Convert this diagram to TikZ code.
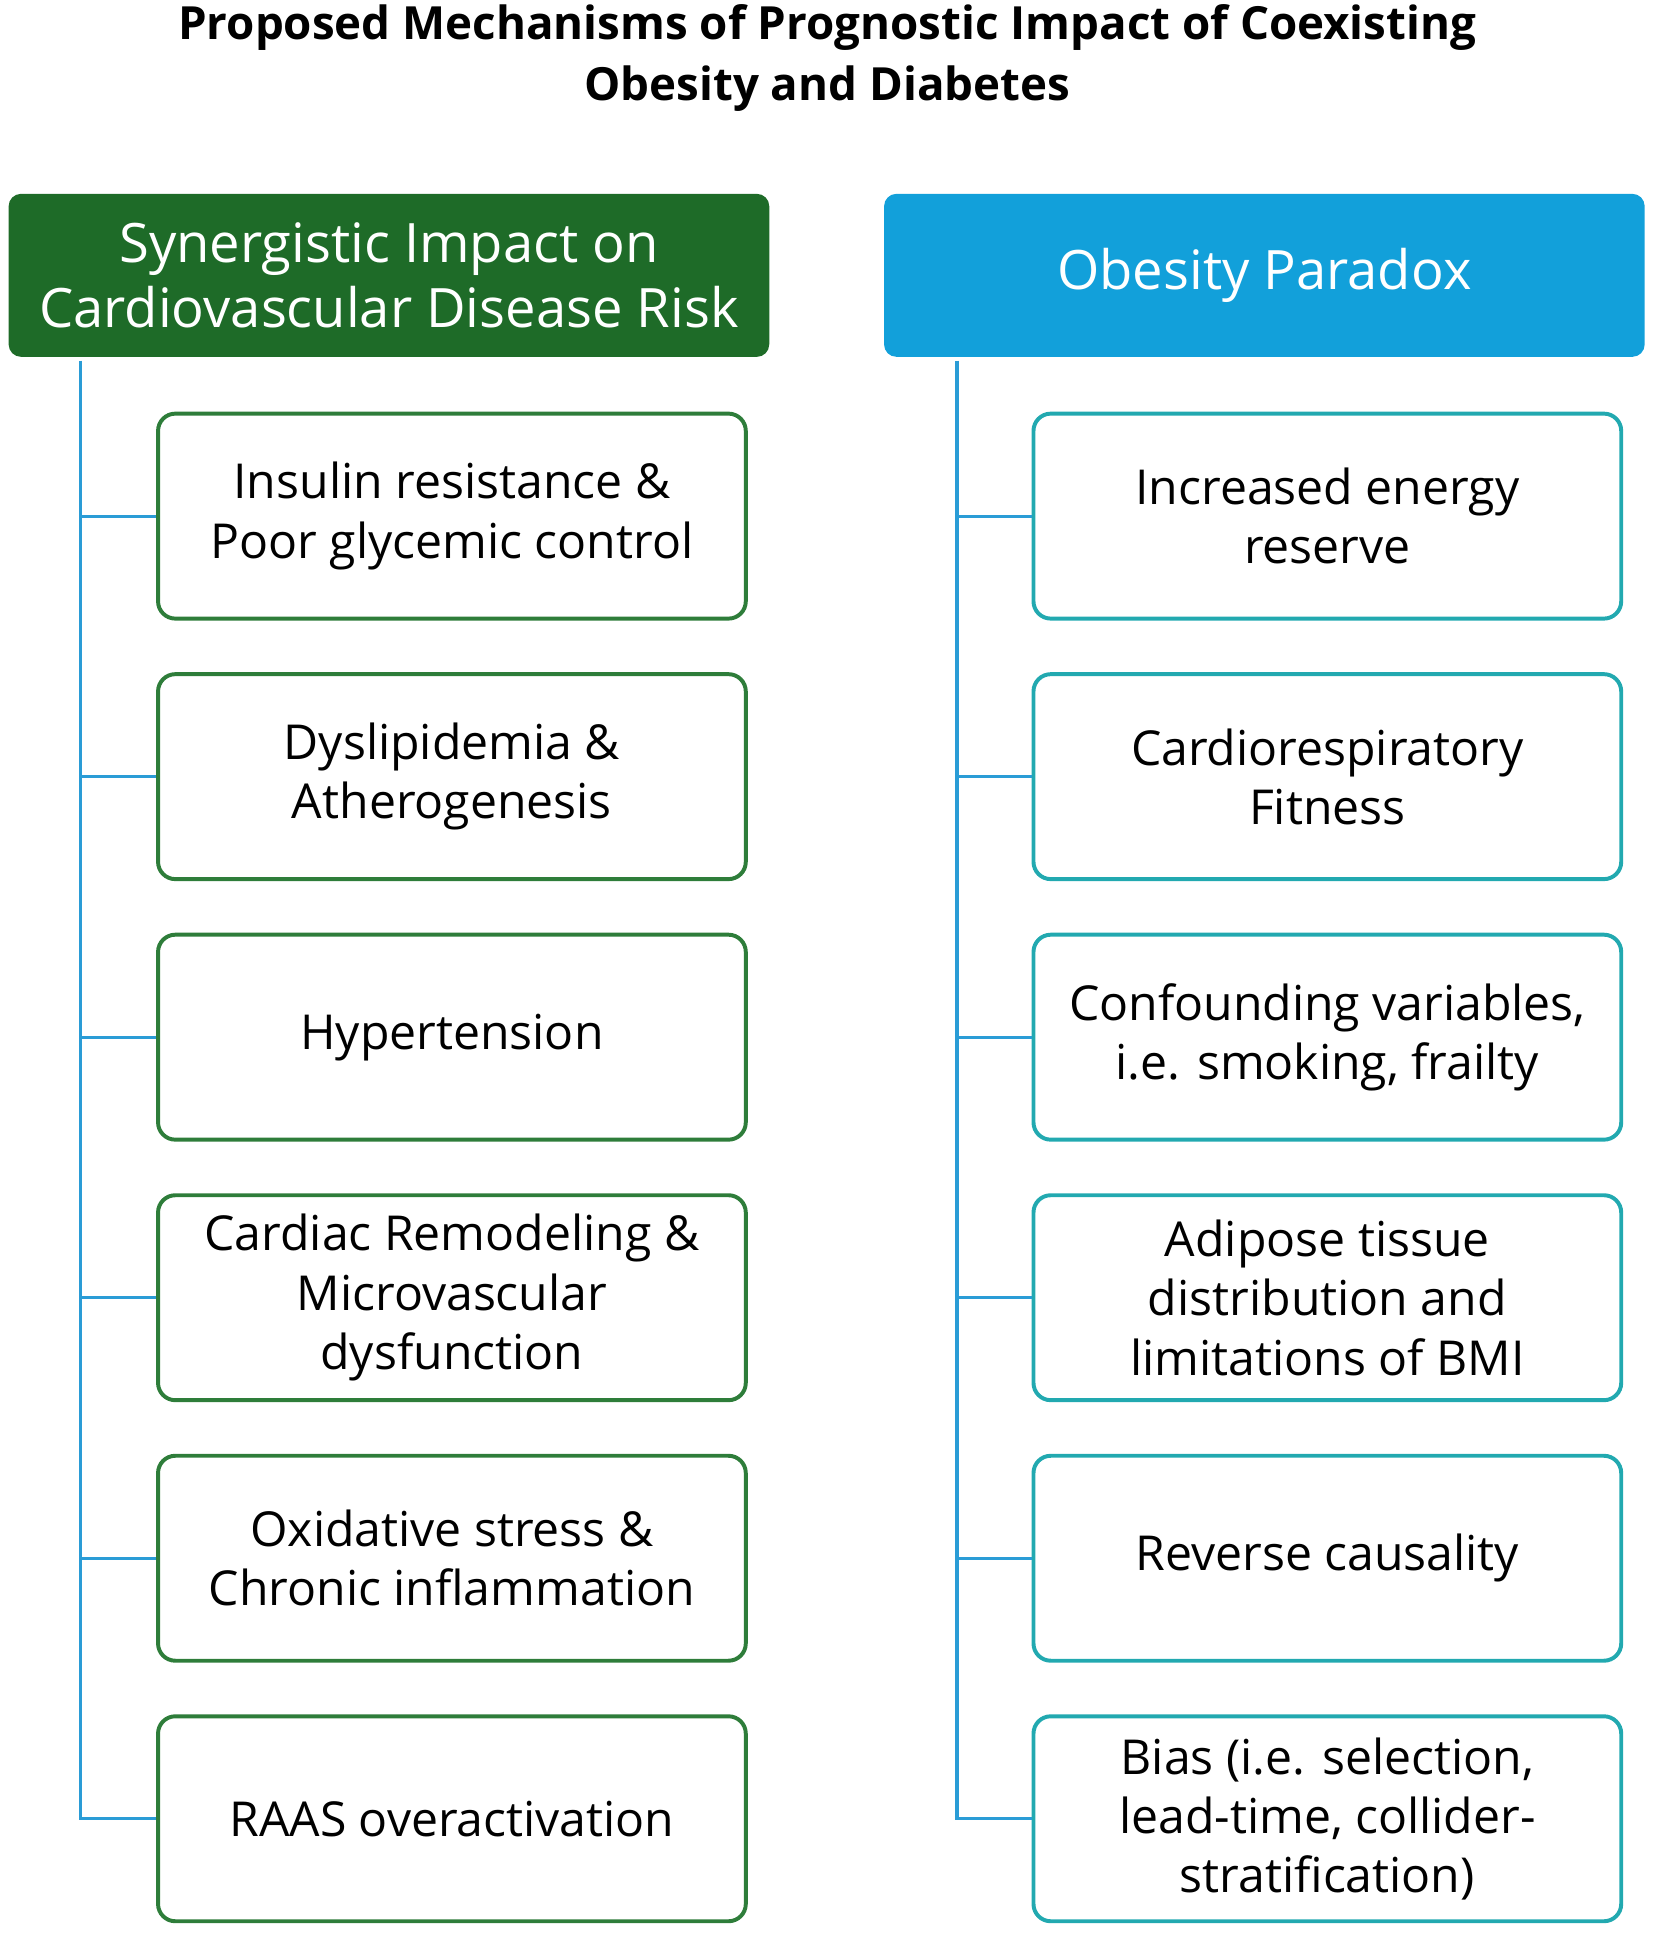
\documentclass[tikz,border=0pt]{standalone}
\usepackage{fontspec}
\setmainfont{Open Sans}
\definecolor{hgreen}{HTML}{1E6B28}
\definecolor{hblue}{HTML}{12A0DA}
\definecolor{bgreen}{HTML}{2E7D3A}
\definecolor{bteal}{HTML}{22A9B0}
\definecolor{lblue}{HTML}{2A9CD6}
\begin{document}
\begin{tikzpicture}[x=0.5pt,y=-0.5pt,
 hdr/.style={rounded corners=5pt,minimum width=308pt,minimum height=66pt,text=white,font=\fontsize{22}{26}\selectfont,align=center,inner sep=0pt},
 lbox/.style={draw=bgreen,line width=1.6pt,rounded corners=7pt,minimum width=238pt,minimum height=83pt,align=center,font=\fontsize{19.5}{24}\selectfont,inner sep=0pt},
 rbox/.style={lbox,draw=bteal},
 conn/.style={draw=lblue,line width=1.3pt}]
\useasboundingbox (0,0) rectangle (1340,1572);
\node[font=\bfseries\fontsize{18.5}{25}\selectfont,align=center] (title) at (670,47) {Proposed Mechanisms of Prognostic Impact of Coexisting\\Obesity and Diabetes};
\node[hdr,fill=hgreen] (lh) at (315,223) {Synergistic Impact on\\Cardiovascular Disease Risk};
\node[hdr,fill=hblue] (rh) at (1024,223) {Obesity Paradox};
\foreach \i/\t in {1/{Insulin resistance \&\\Poor glycemic control},2/{Dyslipidemia \&\\Atherogenesis},3/{Hypertension},4/{Cardiac Remodeling \&\\Microvascular\\dysfunction},5/{Oxidative stress \&\\Chronic inflammation},6/{RAAS overactivation}}
 \node[lbox] (l\i) at (366,{418+211*(\i-1)}) {\t};
\foreach \i/\t in {1/{Increased energy\\reserve},2/{Cardiorespiratory\\Fitness},3/{Confounding variables,\\i.e. smoking, frailty},4/{Adipose tissue\\distribution and\\limitations of BMI},5/{Reverse causality},6/{Bias (i.e. selection,\\lead-time, collider-\\stratification)}}
 \node[rbox] (r\i) at (1075,{418+211*(\i-1)}) {\t};
\coordinate (lt) at (65,292); \coordinate (rt) at (775,292);
\draw[conn] (lt) |- (l6.west);
\draw[conn] (rt) |- (r6.west);
\foreach \i in {1,...,5}{
 \draw[conn] (l\i.west) -- (l\i.west -| lt);
 \draw[conn] (r\i.west) -- (r\i.west -| rt);}
\end{tikzpicture}
\end{document}
